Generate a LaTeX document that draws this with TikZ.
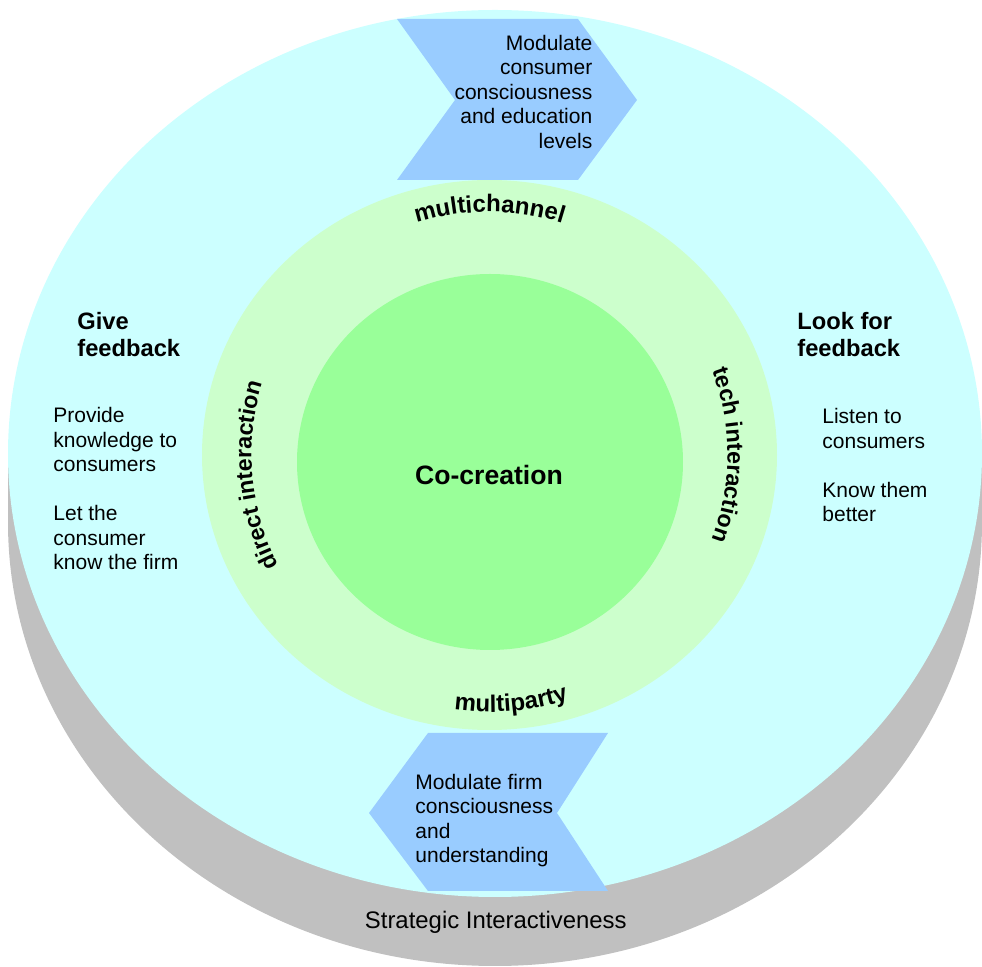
\documentclass[tikz,border=0pt]{standalone}
\usepackage{fontspec}
\setmainfont{Liberation Sans}
\usetikzlibrary{decorations.text}
\definecolor{ringgray}{RGB}{192,192,192}
\definecolor{outercyan}{RGB}{204,255,255}
\definecolor{midgreen}{RGB}{204,255,204}
\definecolor{coregreen}{RGB}{153,255,153}
\definecolor{chevblue}{RGB}{153,204,255}

\begin{document}
\begin{tikzpicture}[x=0.5pt, y=0.5pt,
    body/.style={inner sep=0pt, align=left, font=\fontsize{10.5}{12.25}\selectfont},
    head/.style={inner sep=0pt, align=left, font=\bfseries\fontsize{11.85}{13.7}\selectfont},
    arctext/.style={decorate, decoration={text along path, text align=center, text={#1}}}]
    \useasboundingbox (0,0) rectangle (982,-967);

    % cylinder base and the three rings
    \fill[ringgray] (495,-522.5) ellipse [x radius=487, y radius=443.5];
    \fill[ringgray] (8,-453.5) rectangle (982,-522.5);
    \fill[outercyan] (495,-453.5) ellipse [x radius=487, y radius=443.5];
    \fill[midgreen] (489.5,-455) ellipse [x radius=287.5, y radius=275];
    \fill[coregreen] (490,-462) ellipse [x radius=193, y radius=188];

    % chevrons
    \fill[chevblue] (397,-19) -- (578,-19) -- (637,-100) -- (578,-180) -- (397,-180) -- (455,-100) -- cycle;
    \fill[chevblue] (428,-733) -- (608,-733) -- (557,-813) -- (608,-891) -- (428,-891) -- (369,-813) -- cycle;

    % words round the middle ring
    \path[arctext={|\bfseries\fontsize{12}{14}\selectfont|multichannel}]
      (489.5,-455) ++(130:243) arc[start angle=130, end angle=50, radius=243];
    \path[arctext={|\bfseries\fontsize{11.6}{14}\selectfont|tech interaction}]
      (489.5,-455) ++(40:238) arc[start angle=40, end angle=-40, radius=238];
    \path[arctext={|\bfseries\fontsize{11.6}{14}\selectfont|direct interaction}]
      (489.5,-455) ++(230:238) arc[start angle=230, end angle=140, radius=238];
    \path[arctext={|\bfseries\fontsize{12}{14}\selectfont|multiparty}]
      (489.5,-455) ++(235:257) arc[start angle=235, end angle=315, radius=257];

    \node[head, anchor=base west] (give) at (77,-356.7) {Give\\feedback};
    \node[head, anchor=base west] (look) at (797,-356.7) {Look for\\feedback};
    \node[body, anchor=base west] (provide) at (53,-570) {Provide\\knowledge to\\consumers\\[12.25pt]Let the\\consumer\\know the firm};
    \node[body, anchor=base west] (listen) at (822,-522) {Listen to\\consumers\\[12.25pt]Know them\\better};
    \node[body, anchor=base east, align=right] (modcons) at (592.7,-148.3) {Modulate\\consumer\\consciousness\\and education\\levels};
    \node[body, anchor=base west] (modfirm) at (415,-862.7) {Modulate firm\\consciousness\\and\\understanding};
    \node[inner sep=0pt, anchor=base, font=\bfseries\fontsize{13.3}{16}\selectfont] (cocreation) at (489,-484.5) {Co-creation};
    \node[inner sep=0pt, anchor=base, font=\fontsize{11.95}{14}\selectfont] (strategic) at (495.8,-928.5) {Strategic Interactiveness};
\end{tikzpicture}
\end{document}
